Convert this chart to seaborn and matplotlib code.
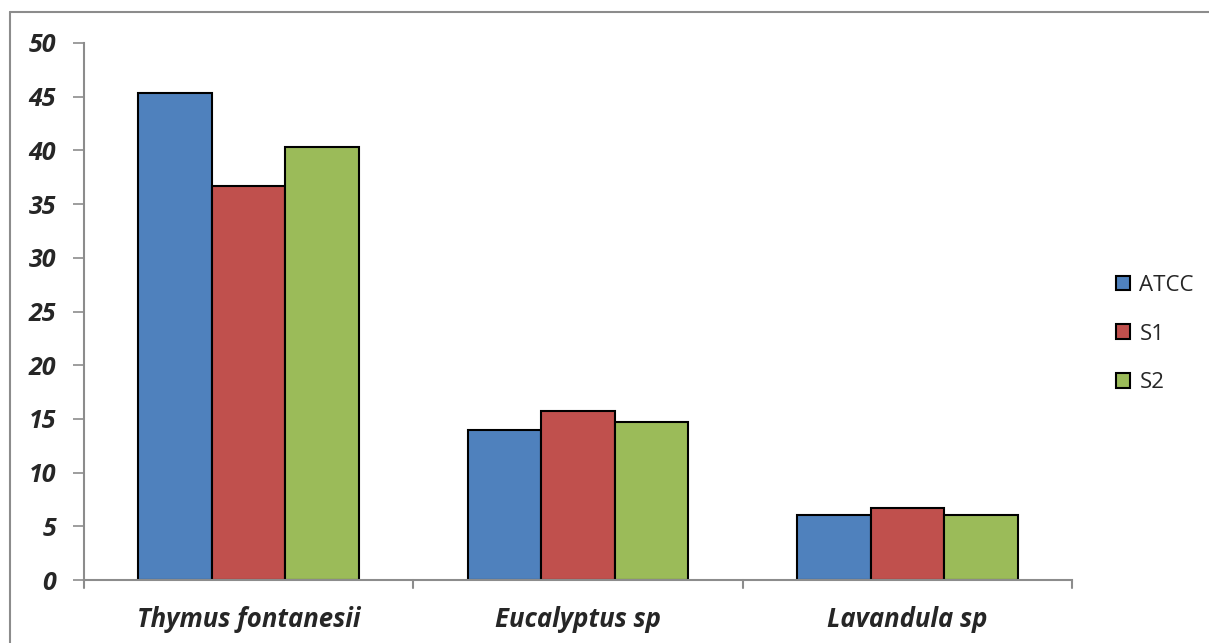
import matplotlib
matplotlib.use("Agg")
import matplotlib.pyplot as plt
import seaborn as sns
import pandas as pd
from matplotlib.lines import Line2D
from matplotlib.patches import Patch

categories = ["Thymus fontanesii", "Eucalyptus sp", "Lavandula sp"]
series = ["ATCC", "S1", "S2"]
atcc = [45.3, 14.0, 6.05]
s1 = [36.7, 15.7, 6.7]
s2 = [40.3, 14.7, 6.05]
colors = ["#4F81BD", "#C0504D", "#9BBB59"]
yticks = [0, 5, 10, 15, 20, 25, 30, 35, 40, 45, 50]

rows = []
for name, vals in zip(series, [atcc, s1, s2]):
    for c, v in zip(categories, vals):
        rows.append({"cat": c, "series": name, "value": v})
df = pd.DataFrame(rows)

sns.set_style("white")
plt.rcParams["font.family"] = ["Open Sans", "DejaVu Sans"]

fig = plt.figure(figsize=(12.09, 6.43), dpi=100)
ax = fig.add_axes([84 / 1209, 63 / 643, (1072 - 84) / 1209, (580 - 43) / 643])

sns.barplot(data=df, x="cat", y="value", hue="series", palette=colors,
            width=0.67, edgecolor="black", linewidth=1.5, ax=ax,
            legend=False, saturation=1)

ax.set_ylim(0, 50)
ax.set_xlim(-0.5, 2.5)
ax.set_yticks(yticks)
ax.set_yticklabels([str(t) for t in yticks], fontsize=18, fontweight="bold",
                   fontstyle="italic")
ax.set_xticks([0, 1, 2])
ax.set_xticklabels(categories, fontsize=18.5, fontweight="bold", fontstyle="italic")
ax.tick_params(axis="x", length=0, pad=19)
ax.tick_params(axis="y", length=8, width=1.2, color="#8C8C8C", pad=12, left=True)
ax.set_xlabel("")
ax.set_ylabel("")
for s in ["top", "right"]:
    ax.spines[s].set_visible(False)
for s in ["left", "bottom"]:
    ax.spines[s].set_color("#8C8C8C")
    ax.spines[s].set_linewidth(1.5)
# category boundary ticks
for xb in [-0.5, 0.5, 1.5, 2.5]:
    ax.plot([xb, xb], [0, -0.015], transform=ax.get_xaxis_transform(),
            color="#8C8C8C", lw=1.5, clip_on=False)

handles = [Patch(facecolor=c, edgecolor="black", linewidth=1.5) for c in colors]
leg = fig.legend(handles, series, loc="center left",
                 bbox_to_anchor=(1096 / 1209, 1 - 334 / 643), frameon=False,
                 fontsize=16, handlelength=0.65, handleheight=0.65,
                 handletextpad=0.4, labelspacing=1.25)

# figure frame (top and left)
fig.add_artist(Line2D([10 / 1209, 1], [1 - 12 / 643, 1 - 12 / 643],
                      transform=fig.transFigure, color="#8C8C8C", lw=1.5))
fig.add_artist(Line2D([10 / 1209, 10 / 1209], [0, 1 - 12 / 643],
                      transform=fig.transFigure, color="#8C8C8C", lw=1.5))

fig.savefig("out.png", dpi=100)
